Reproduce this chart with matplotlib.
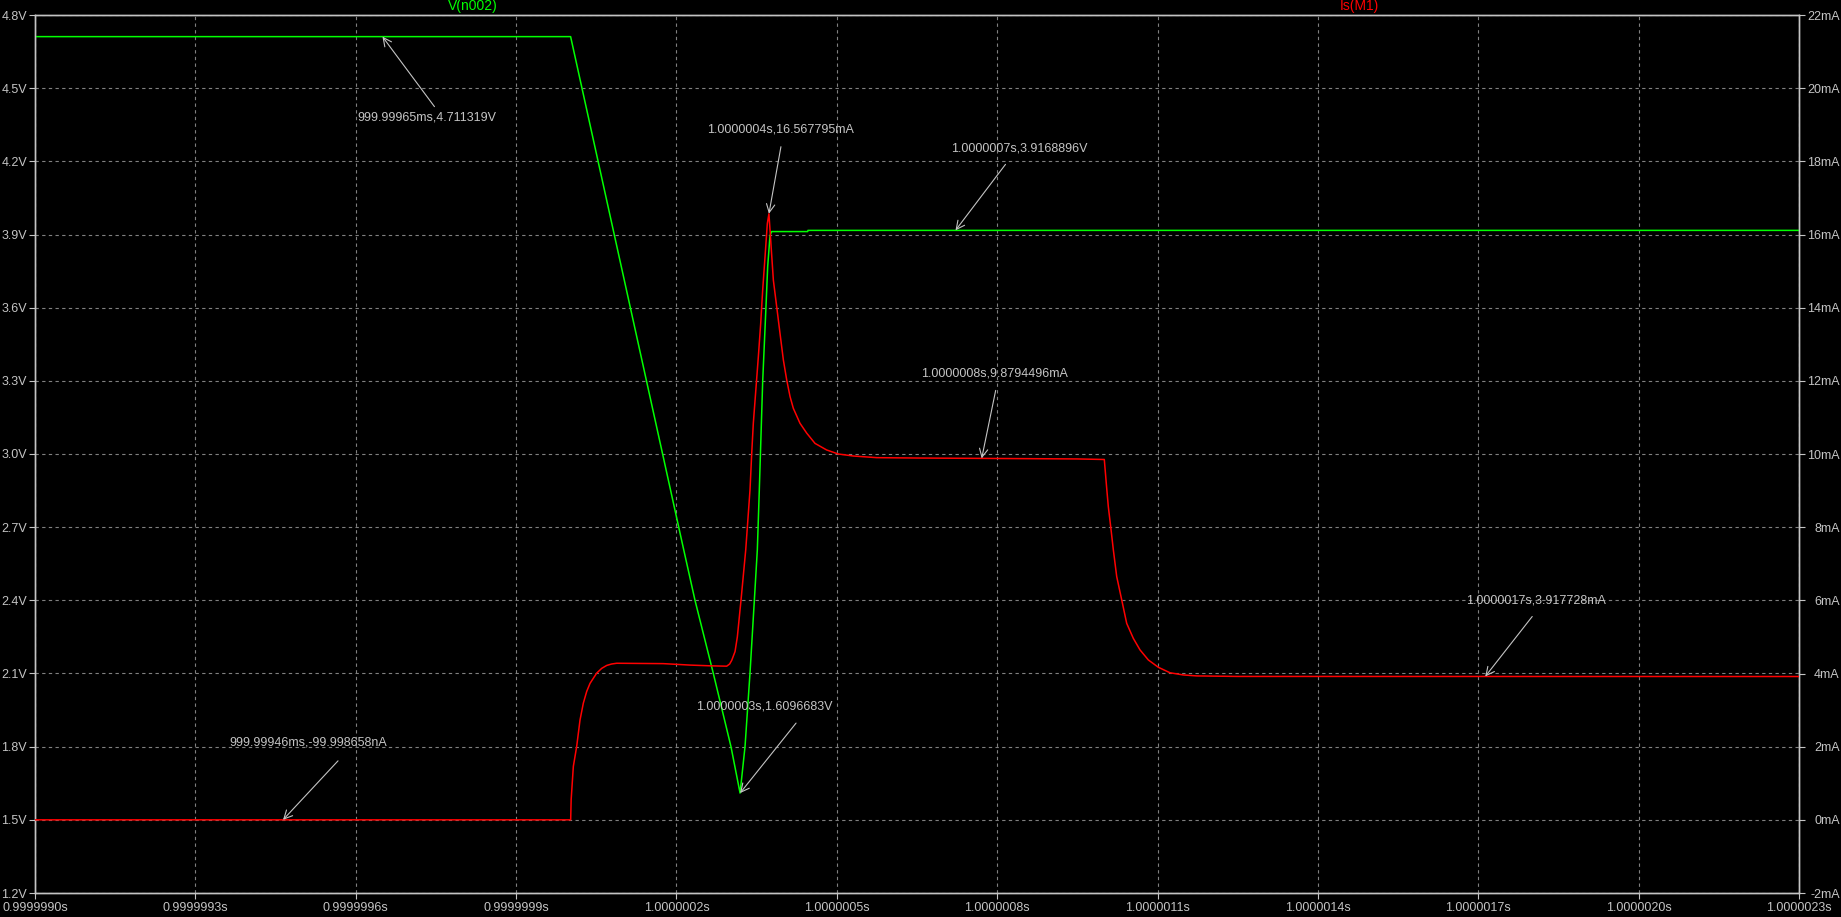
import matplotlib
matplotlib.use("Agg")
import matplotlib.pyplot as plt
from matplotlib import font_manager as fm
from matplotlib.ticker import FixedLocator

# ---------------- data (time in microseconds relative to 1 s) ----------------
t_v = [-1.0, 0.002, 0.2128, 0.2347, 0.269, 0.302, 0.319, 0.3283, 0.3376, 0.3457,
       0.3513, 0.355, 0.3613, 0.3675, 0.3707, 0.375, 0.378, 0.4455, 0.446, 2.3]
v_n002 = [4.711319, 4.711319, 2.615, 2.40, 2.10, 1.80, 1.6096683, 1.801, 2.102, 2.40,
          2.607, 2.853, 3.297, 3.605, 3.77, 3.895, 3.912, 3.912, 3.9168896, 3.9168896]

t_i = [-1.0, 0.0021, 0.0030, 0.0071, 0.0133, 0.0196, 0.0258, 0.0321, 0.0383, 0.0445,
       0.0508, 0.0601, 0.0695, 0.0788, 0.0882, 0.175, 0.2254, 0.263, 0.294, 0.2995,
       0.3034, 0.3096, 0.3139, 0.3208, 0.3296, 0.3376, 0.3408, 0.3438, 0.3532, 0.3576,
       0.3613, 0.3657, 0.370, 0.373, 0.3813, 0.3875, 0.3937, 0.40, 0.4063, 0.4125,
       0.4186, 0.4311, 0.4437, 0.4592, 0.481, 0.5028, 0.5309, 0.5747, 0.65, 0.78,
       0.95, 1.0004, 1.0049, 1.0079, 1.0124, 1.0173, 1.0236, 1.033, 1.0423, 1.0547,
       1.0672, 1.0828, 1.1015, 1.1233, 1.1483, 1.1733, 1.25, 2.3]
is_m1 = [-0.0001, -0.0001, 0.55, 1.46, 2.0, 2.73, 3.19, 3.51, 3.73, 3.87,
         4.01, 4.14, 4.22, 4.26, 4.28, 4.27, 4.23, 4.21, 4.20, 4.26,
         4.36, 4.60, 5.0, 6.01, 7.38, 9.02, 10.02, 10.84, 12.66, 13.57,
         14.48, 15.39, 16.30, 16.567795, 14.75, 14.03, 13.3, 12.57, 12.02, 11.57,
         11.25, 10.84, 10.57, 10.29, 10.11, 10.0, 9.945, 9.9, 9.89, 9.8794496,
         9.865, 9.85, 9.06, 8.56, 8.01, 7.38, 6.65, 6.01, 5.37, 4.96,
         4.645, 4.37, 4.17, 4.02, 3.96, 3.934, 3.92, 3.917728]

x_ticks = [-1.0 + 0.3 * k for k in range(12)]
x_labels = ["0.9999990s", "0.9999993s", "0.9999996s", "0.9999999s", "1.0000002s",
            "1.0000005s", "1.0000008s", "1.0000011s", "1.0000014s", "1.0000017s",
            "1.0000020s", "1.0000023s"]
v_ticks = [1.2 + 0.3 * k for k in range(13)]
v_labels = ["1.2V", "1.5V", "1.8V", "2.1V", "2.4V", "2.7V", "3.0V", "3.3V", "3.6V",
            "3.9V", "4.2V", "4.5V", "4.8V"]
i_ticks = [-2 + 2 * k for k in range(13)]
i_labels = ["-2mA", "0mA", "2mA", "4mA", "6mA", "8mA", "10mA", "12mA", "14mA",
            "16mA", "18mA", "20mA", "22mA"]

# annotations: (text, time, value, axis, arrow-tail offset px, text offset px)
ann_text = ["999.99965ms,4.711319V", "1.0000004s,16.567795mA", "1.0000007s,3.9168896V",
            "1.0000008s,9.8794496mA", "1.0000017s,3.917728mA", "1.0000003s,1.6096683V",
            "999.99946ms,-99.998658nA"]
ann_t = [-0.35, 0.373, 0.722, 0.771, 1.713, 0.319, -0.536]
ann_val = [4.711319, 16.567795, 3.9168896, 9.8794496, 3.917728, 1.6096683, -0.0001]
ann_axis = ["v", "i", "v", "i", "i", "v", "i"]
ann_tail = [(52, -70), (12, 67), (50, 66), (14, 68), (47, 60), (56, 70), (55, 59)]
ann_txt = [(44, -81), (12, 84), (64, 82), (13, 85), (51, 76), (24, 87), (25, 77)]

# ---------------- font selection ----------------
def has_font(name):
    try:
        fm.findfont(fm.FontProperties(family=name), fallback_to_default=False)
        return True
    except Exception:
        return False

if has_font("Liberation Sans Narrow"):
    FONT = ["Liberation Sans Narrow", "DejaVu Sans"]
    TICK_FS, ANN_FS, NAME_FS = 11.3, 11.0, 11.8
else:
    FONT = ["Liberation Sans", "DejaVu Sans"]
    TICK_FS, ANN_FS, NAME_FS = 9.0, 9.0, 10.0
plt.rcParams["font.family"] = FONT

BG = "black"
FG = "#c4c4c4"
GRID = "#808080"
GREEN = "#00ff00"
RED = "#ff0000"

W, H = 1841, 917
fig = plt.figure(figsize=(W / 100, H / 100), dpi=100, facecolor=BG)
L, R, T, B = 35, 1799, 15, 893
ax = fig.add_axes([L / W, (H - B) / H, (R - L) / W, (B - T) / H], facecolor=BG)
ax2 = ax.twinx()

ax.plot(t_v, v_n002, color=GREEN, lw=1.1, zorder=3)
ax2.plot(t_i, is_m1, color=RED, lw=1.1, zorder=3)

ax.set_xlim(-1.0, 2.3)
ax.set_ylim(1.2, 4.8)
ax2.set_ylim(-2, 22)

ax.xaxis.set_major_locator(FixedLocator(x_ticks))
ax.set_xticklabels(x_labels)
ax.yaxis.set_major_locator(FixedLocator(v_ticks))
ax.set_yticklabels(v_labels)
ax2.yaxis.set_major_locator(FixedLocator(i_ticks))
ax2.set_yticklabels(i_labels)

for a in (ax, ax2):
    for s in a.spines.values():
        s.set_color(FG)
        s.set_linewidth(1.0)

ax.tick_params(axis="x", colors=FG, labelcolor=FG, length=4.3, width=0.8,
               labelsize=TICK_FS, pad=2)
ax.tick_params(axis="y", colors=FG, labelcolor=FG, length=4.3, width=0.8,
               labelsize=TICK_FS, pad=1.5)
ax2.tick_params(axis="y", colors=FG, labelcolor=FG, length=4.3, width=0.8,
                labelsize=TICK_FS, pad=25)
for lbl in ax2.get_yticklabels():
    lbl.set_ha("right")

ax.grid(True, color=GRID, linestyle=(0, (3, 3)), linewidth=0.8)
ax.set_axisbelow(True)

# trace names on top
fig.text(473 / W, 1 - 6 / H, "V(n002)", color=GREEN, fontsize=NAME_FS,
         ha="center", va="center")
fig.text(1359 / W, 1 - 6 / H, "Is(M1)", color=RED, fontsize=NAME_FS,
         ha="center", va="center")

# cursor annotations
for txt, tt, val, which, tail, toff in zip(ann_text, ann_t, ann_val, ann_axis,
                                          ann_tail, ann_txt):
    a = ax if which == "v" else ax2
    a.annotate("", xy=(tt, val), xytext=tail, textcoords="offset pixels",
               arrowprops=dict(arrowstyle="->,head_length=0.6,head_width=0.3",
                               color=FG, lw=0.8, shrinkA=0, shrinkB=0),
               annotation_clip=False, zorder=5)
    a.annotate(txt, xy=(tt, val), xytext=toff, textcoords="offset pixels",
               ha="center", va="center", color=FG, fontsize=ANN_FS, zorder=5)

fig.savefig("out.png", dpi=100, facecolor=BG)
